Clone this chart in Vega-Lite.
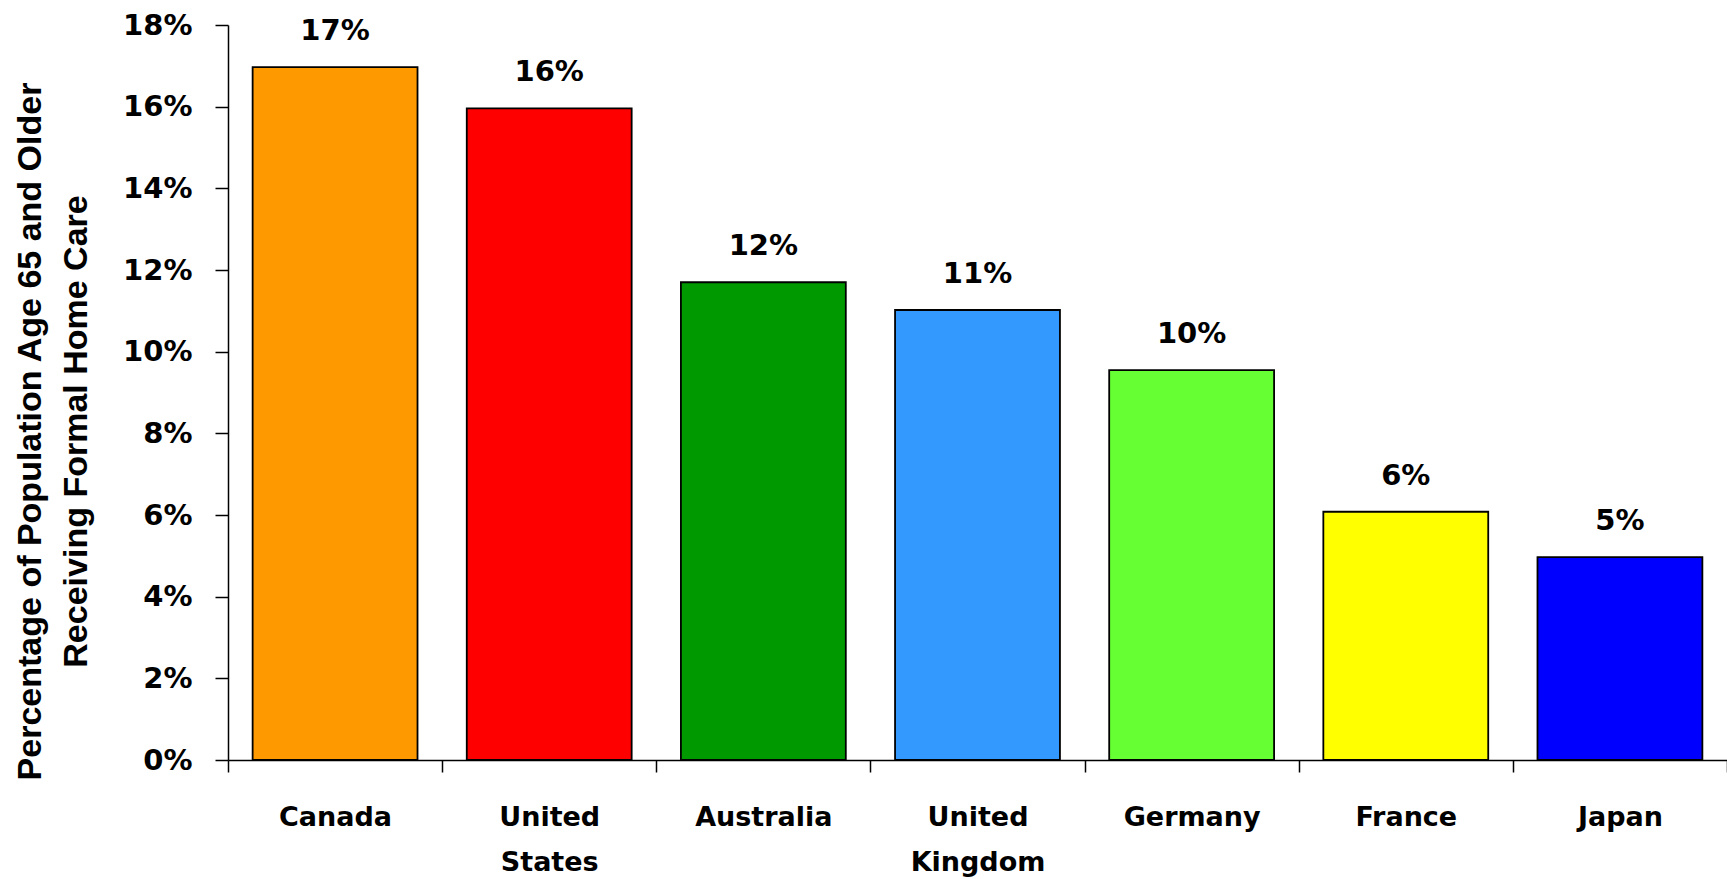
{
  "$schema": "https://vega.github.io/schema/vega-lite/v6.json",
  "width": 1499,
  "height": 735,
  "autosize": {"type": "none"},
  "padding": {"left": 228, "top": 25, "right": 0, "bottom": 119},
  "background": "white",
  "config": {"view": {"stroke": null}},
  "data": {
    "values": [
      {"country": "Canada", "value": 0.1697},
      {"country": "United States", "value": 0.1596},
      {"country": "Australia", "value": 0.117},
      {"country": "United Kingdom", "value": 0.1102},
      {"country": "Germany", "value": 0.0955},
      {"country": "France", "value": 0.0608},
      {"country": "Japan", "value": 0.0497}
    ]
  },
  "encoding": {
    "x": {
      "field": "country",
      "type": "nominal",
      "sort": null,
      "scale": {"paddingInner": 0, "paddingOuter": 0},
      "axis": {
        "title": null,
        "labelAngle": 0,
        "tickBand": "extent",
        "domainColor": "black",
        "domainWidth": 1.5,
        "tickColor": "black",
        "tickWidth": 1.5,
        "tickSize": 12,
        "labelFont": "DejaVu Sans",
        "labelFontWeight": "bold",
        "labelFontSize": 27,
        "labelColor": "black",
        "labelBaseline": "alphabetic",
        "labelPadding": 53,
        "labelLineHeight": 45,
        "labelOverlap": false,
        "labelLimit": 0,
        "labelExpr": "split(datum.label, ' ')"
      }
    },
    "y": {
      "field": "value",
      "type": "quantitative",
      "scale": {"domain": [0, 0.18], "nice": false},
      "axis": {
        "title": ["Percentage of Population Age 65 and Older", "Receiving Formal Home Care"],
        "values": [0, 0.02, 0.04, 0.06, 0.08, 0.1, 0.12, 0.14, 0.16, 0.18],
        "format": ".0%",
        "grid": false,
        "domainColor": "black",
        "domainWidth": 1.5,
        "tickColor": "black",
        "tickWidth": 1.5,
        "tickSize": 13,
        "labelPadding": 23,
        "labelFlush": false,
        "labelFont": "DejaVu Sans",
        "labelFontWeight": "bold",
        "labelFontSize": 29,
        "labelColor": "black",
        "titleFont": "Liberation Sans",
        "titleFontWeight": "bold",
        "titleFontSize": 34,
        "titleColor": "black",
        "titleAngle": 270,
        "titleAlign": "center",
        "titleBaseline": "alphabetic",
        "titleX": -188,
        "titleY": 406,
        "titleLineHeight": 46
      }
    }
  },
  "layer": [
    {
      "mark": {"type": "bar", "stroke": "black", "strokeWidth": 1.8, "width": {"band": 0.77}},
      "encoding": {
        "color": {
          "field": "country",
          "type": "nominal",
          "scale": {
            "domain": ["Canada", "United States", "Australia", "United Kingdom", "Germany", "France", "Japan"],
            "range": ["#FF9900", "#FF0000", "#009900", "#3399FF", "#66FF33", "#FFFF00", "#0000FF"]
          },
          "legend": null
        }
      }
    },
    {
      "mark": {"type": "text", "baseline": "alphabetic", "dy": -27, "font": "DejaVu Sans", "fontWeight": "bold", "fontSize": 29, "color": "black"},
      "encoding": {
        "text": {"field": "value", "type": "quantitative", "format": ".0%"}
      }
    }
  ]
}
